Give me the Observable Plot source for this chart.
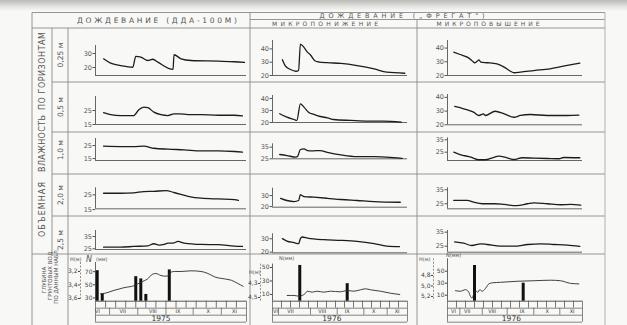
<!DOCTYPE html>
<html><head><meta charset="utf-8">
<script src="https://cdn.jsdelivr.net/npm/d3@7"></script>
<script src="https://cdn.jsdelivr.net/npm/@observablehq/plot@0.6"></script>
<style>
html,body{margin:0;padding:0}
body{width:627px;height:325px;overflow:hidden;position:relative;background:#f8f8f6;font-family:"DejaVu Sans",sans-serif}
#shade{position:absolute;left:0;top:0;width:627px;height:11px;background:linear-gradient(#b9b9b5,#e4e4e1 60%,#f8f8f6)}
#frame{position:absolute;left:0;top:0}
</style></head><body>
<div id="shade"></div>
<svg id="frame" width="627" height="325" font-family="DejaVu Sans, sans-serif">
 <g stroke="#8a8a8a" stroke-width="0.9" fill="none">
  <line x1="32" y1="12.5" x2="605" y2="12.5"/>
  <line x1="250" y1="19.5" x2="605" y2="19.5"/>
  <line x1="32" y1="28" x2="605" y2="28"/>
  <line x1="52" y1="82" x2="605" y2="82"/>
  <line x1="52" y1="132" x2="605" y2="132"/>
  <line x1="52" y1="174" x2="605" y2="174"/>
  <line x1="52" y1="216" x2="605" y2="216"/>
  <line x1="32" y1="254" x2="605" y2="254"/>
  <line x1="32" y1="12.5" x2="32" y2="325"/>
  <line x1="52" y1="28" x2="52" y2="254"/>
  <line x1="68" y1="28" x2="68" y2="325"/>
  <line x1="250" y1="12.5" x2="250" y2="325"/>
  <line x1="417" y1="19.5" x2="417" y2="325"/>
  <line x1="605" y1="12.5" x2="605" y2="325" stroke="#aaa"/>
 </g>
 <g fill="#555">
  <text x="157" y="23" text-anchor="middle" font-size="7.5" textLength="160" lengthAdjust="spacing">ДОЖДЕВАНИЕ (ДДА-100М)</text>
  <text x="402" y="17.6" text-anchor="middle" font-size="6.5" textLength="165" lengthAdjust="spacing">ДОЖДЕВАНИЕ („ФРЕГАТ")</text>
  <text x="325" y="26.4" text-anchor="middle" font-size="6" textLength="106" lengthAdjust="spacing">МИКРОПОНИЖЕНИЕ</text>
  <text x="488" y="26.2" text-anchor="middle" font-size="6" textLength="103" lengthAdjust="spacing">МИКРОПОВЫШЕНИЕ</text>
  <text transform="translate(45,209.5) rotate(-90)" text-anchor="middle" font-size="8" textLength="55" lengthAdjust="spacing">ОБЪЕМНАЯ</text>
  <text transform="translate(45,143.5) rotate(-90)" text-anchor="middle" font-size="8" textLength="57" lengthAdjust="spacing">ВЛАЖНОСТЬ</text>
  <text transform="translate(45,71) rotate(-90)" text-anchor="middle" font-size="8" textLength="78" lengthAdjust="spacing">ПО ГОРИЗОНТАМ</text>
  <text transform="translate(63,55) rotate(-90)" text-anchor="middle" font-size="7.5">0,25 м</text>
  <text transform="translate(63,107) rotate(-90)" text-anchor="middle" font-size="7.5">0,5 м</text>
  <text transform="translate(63,150) rotate(-90)" text-anchor="middle" font-size="7.5">1,0 м</text>
  <text transform="translate(63,195) rotate(-90)" text-anchor="middle" font-size="7.5">2,0 м</text>
  <text transform="translate(63,240) rotate(-90)" text-anchor="middle" font-size="7.5">2,5 м</text>
  <text transform="translate(45.5,280) rotate(-90)" text-anchor="middle" font-size="5.5">ГЛУБИНА</text>
  <text transform="translate(51.5,276) rotate(-90)" text-anchor="middle" font-size="5.5">ГРУНТОВЫХ ВОД</text>
  <text transform="translate(57.5,276) rotate(-90)" text-anchor="middle" font-size="5.5">ПО ДАННЫМ НАБЛ.</text>
  <text x="70" y="261" font-size="5">H(м)</text>
  <text x="86" y="262" font-size="8" font-style="italic">N</text>
  <text x="96" y="261" font-size="5">(мм)</text>
  <text x="249" y="274" font-size="5">H(м)</text>
  <text x="279" y="259.5" font-size="5">N(мм)</text>
  <text x="419" y="261" font-size="5">H(м)</text>
  <text x="446" y="257" font-size="5">N(мм)</text>
 </g>
</svg>
<script>
// ================= DATA =================
const DAY_DOMAIN = [0, 150];   // days, from start of the observation axis

// Column 1: ДОЖДЕВАНИЕ (ДДА-100М), 1975
const dda025Day = [8,15,25,37,40,45,52,57,62,77,78,85,95,122,138,148];
const dda025Val = [26.2,23.1,21.4,20.2,27.9,27.4,25,25.9,23.8,18.6,29.1,26.2,25,24.5,24.1,23.6];
const dda05Day  = [8,15,25,38,43,48,52,58,65,72,78,83,92,105,122,138,146];
const dda05Val  = [23.4,22.1,21.4,21.4,25.5,27.4,27,23.8,22,21.4,22.6,22.6,22.1,22,21.6,21.6,21.2];
const dda10Day  = [8,25,38,48,58,72,88,105,122,138,146];
const dda10Val  = [24.5,24.2,24.2,24.5,22.9,22.2,21.7,20.9,20.9,20.4,19.9];
const dda20Day  = [8,25,38,48,58,70,78,92,105,122,138,142];
const dda20Val  = [26.1,26.1,26.4,27.2,27.4,27.9,26.6,24,22.7,22.2,21.8,21.3];
const dda25Day  = [8,25,38,52,58,63,68,72,77,82,88,105,122,138,146];
const dda25Val  = [26.3,26.3,26.9,27.4,29.1,28,28.5,29.6,29.6,31,29.6,28.5,28.3,27.1,26.9];

// Column 2: ФРЕГАТ, микропонижение, 1976
const lowA025Day = [11,14,20,26,29,31,35,39,42,47,52,61,76,94,113,127,147];
const lowA025Val = [31.8,27.5,24.5,23.2,23.8,43.6,41.1,37.4,35.6,31.1,30.1,29.6,29.1,27.5,25,22.5,21.7];
const lowA05Day  = [8,16,24,27,31,35,40,46,53,61,68,87,106,123,143];
const lowA05Val  = [27.3,24.4,22.5,21.7,35.6,32.8,28.6,26.7,25,23.9,22.5,21.7,21.1,21.1,20.3];
const lowA10Day  = [8,16,26,28,31,35,39,44,53,61,76,94,113,127,144];
const lowA10Val  = [28.7,27.8,26.4,27.2,33,33.6,32.1,31.8,32.1,30.6,28.4,26.9,26.9,26.4,25.3];
const lowA20Day  = [9,16,24,29,31,33,35,46,61,76,94,113,142];
const lowA20Val  = [27.5,25.5,24.5,25.5,30.9,30,29.1,28.5,27.5,26.4,25.5,24.5,23.9];
const lowA25Day  = [11,16,24,29,31,33,39,57,76,94,113,127,141];
const lowA25Val  = [30.1,28.3,27.1,26.3,30.1,31.3,30.5,29.3,28.8,28,26.3,24.5,24.1];

// Column 3: ФРЕГАТ, микроповышение, 1976
const highB025Day = [7,14,22,27,30,33,35,37,44,55,63,70,74,81,96,114,133,147];
const highB025Val = [37,35.3,33.4,31,29.3,30.4,31.4,29.7,29.3,28.5,26.1,23.1,22,22.4,23.6,24.9,27.3,29];
const highB05Day  = [8,18,29,35,40,42,53,63,74,81,92,111,133,146];
const highB05Val  = [33.4,31.7,29.2,26.8,28,26.8,29.9,28,25.5,26.8,27.5,26.8,26.8,27];
const highB10Day  = [7,14,26,35,42,50,57,66,74,83,96,111,124,129,147];
const highB10Val  = [25,23.1,21,18.9,18.9,20.5,21.8,20.5,19.1,20.5,20.2,19.9,19.7,20.7,20.5];
const highB20Day  = [7,22,29,39,52,63,77,89,96,111,126,137,148];
const highB20Val  = [27.4,27.4,26.1,25,25,24.5,23.6,25,25.7,25,24.3,24.5,24];
const highB25Day  = [8,18,27,37,44,59,74,89,103,118,133,147];
const highB25Val  = [28.1,27.1,25.5,26.7,26.2,25,25,26.2,26.7,26.2,25.7,24.8];

// Moisture axis ticks and domains (bottom value at baseline, top at arrow)
const ticksC1 = [[20,30],[15,25],[15,25],[15,25],[25,35]];
const ticksC2 = [[20,30,40],[20,30,40],[25,35],[20,30],[20,30]];
const ticksC3 = [[20,30,40],[20,30,40],[25,35],[25,35],[25,35]];
const domC1 = [[14.3,35.7],[15,35],[13.5,30.4],[15.5,29.8],[24.4,39.9]];
const domC2 = [[20,46.3],[20,42.5],[25,37.9],[19.4,36.7],[19.5,33.7]];
const domC3 = [[20,45.5],[20,42.1],[18.3,36.6],[21.4,36.4],[20.7,36.2]];

// Bottom row: precipitation N (mm) bars and groundwater depth H (m)
const rain1975Day = [1.7,6.7,40,45,50,73.3];
const rain1975Val = [71.5,36,62.4,59,35.3,72.7];
const gw1975Day = [5,10,18.3,28.3,38.3,45,51.7,56.7,60,65,70,72.3,75,78.3,85,95,105,111.7,118.3,128.3,135,141.7,146.7];
const gw1975Val = [3.53,3.52,3.48,3.44,3.41,3.36,3.31,3.24,3.23,3.26,3.27,3.26,3.21,3.2,3.2,3.19,3.2,3.23,3.28,3.31,3.33,3.38,3.42];
const rainLowDay = [30.3,83];
const rainLowVal = [53,26];
const gwLowDay = [16.3,23.7,29.2,33,36.7,38.6,44.1,49.6,57,64.4,75.6,83,90.3,97.8,103.3,108.9,120,131.1,141.4];
const gwLowVal = [4.471,4.471,4.481,4.471,4.439,4.41,4.424,4.41,4.424,4.41,4.419,4.4,4.41,4.39,4.376,4.39,4.41,4.439,4.457];
const rainHighDay = [30,84.1];
const rainHighVal = [59.5,30];
const gwHighDay = [8.9,14.4,20,23.7,25.6,27.4,29.2,31.1,33.7,35.9,38.6,41.1,43.3,45.9,49.7,58.9,77.4,95.9,114.4,125.6,136.7,145.9];
const gwHighVal = [5.09,5.1,5.07,5.12,5.2,5.23,5.15,5.09,5.12,5.07,5.1,5.07,5.02,4.96,4.94,4.93,4.91,4.9,4.89,4.9,4.95,4.96];

const nDom = [[25,84],[0,55],[0,70.7]];
const nTicks = [[30,50,70],[10,30,50],[10,30,50]];
const hDom = [[3.067,3.64],[4.023,4.553],[4.482,5.29]];
const hTicks = [[3.2,3.4,3.6],[4.3,4.5],[4.8,5.0,5.2]];

// Month strip
const monthNames = ["VI","VII","VIII","IX","X","XI"];
const monthPos = [[2,27,57,82,112,138],[3.3,20,55.2,83,112.6,138.5],[6.7,21.9,49.6,83,110.7,138.5]];
const monthSeps = [[14,42,70,97,125],[6.7,42.2,71.9,101.5,127.4],[13.7,38.6,66.3,95.9,124.8]];
const dekads = [10,20,30,40,50,60,70,80,90,100,110,120,130,140];
const years = ["1975","1976","1976"];
const yearPos = [65,66,71];

// ================= LAYOUT =================
const COL = [{x0:68,x1:250,ax:95,ae:246},{x0:250,x1:417,ax:272,ae:407},{x0:417,x1:605,ax:447,ae:582}];
const ROWS = [{y0:28,y1:82},{y0:82,y1:132},{y0:132,y1:174},{y0:174,y1:216},{y0:216,y1:254}];
const geom = [
  [[75,45],[124,96],[160,138],[208.3,187.3],[249,230]],
  [[75,40],[122,95],[158.3,143.3],[206.7,187.7],[252.3,233.3]],
  [[75,40],[124.3,94],[160,137.3],[208.3,187.3],[251.7,230]]
];
const BOT = {y0:254, y1:325, base:300.7};
const nTopY = [262,263.6,258.3];
const hAxisDx = [-15,-12,-14];

const fmt = d => String(d).replace(".", ",");
const baseStyle = {background:"transparent", overflow:"visible", fontFamily:"DejaVu Sans, sans-serif"};
function place(svg, left, top) {
  svg.style.position = "absolute";
  svg.style.left = left + "px";
  svg.style.top = top + "px";
  document.body.appendChild(svg);
}
const zip = (a, b) => a.map((d, i) => ({d, v: b[i]}));

const series = [
  [zip(dda025Day,dda025Val),zip(dda05Day,dda05Val),zip(dda10Day,dda10Val),zip(dda20Day,dda20Val),zip(dda25Day,dda25Val)],
  [zip(lowA025Day,lowA025Val),zip(lowA05Day,lowA05Val),zip(lowA10Day,lowA10Val),zip(lowA20Day,lowA20Val),zip(lowA25Day,lowA25Val)],
  [zip(highB025Day,highB025Val),zip(highB05Day,highB05Val),zip(highB10Day,highB10Val),zip(highB20Day,highB20Val),zip(highB25Day,highB25Val)]
];
const ticks = [ticksC1, ticksC2, ticksC3];
const doms = [domC1, domC2, domC3];

for (let ci = 0; ci < 3; ci++) {
  const c = COL[ci];
  for (let ri = 0; ri < 5; ri++) {
    const r = ROWS[ri];
    const [baseY, topY] = geom[ci][ri];
    const dom = doms[ci][ri];
    const svg = Plot.plot({
      width: c.x1 - c.x0, height: r.y1 - r.y0,
      marginLeft: c.ax - c.x0, marginRight: c.x1 - c.ae,
      marginTop: topY - r.y0, marginBottom: r.y1 - baseY,
      x: {domain: DAY_DOMAIN, axis: null},
      y: {domain: dom, axis: null},
      style: baseStyle,
      marks: [
        Plot.ruleY([dom[0]], {stroke: "#555", strokeWidth: 0.9}),
        Plot.ruleX([DAY_DOMAIN[0]], {stroke: "#555", strokeWidth: 0.9}),
        Plot.axisY({ticks: ticks[ci][ri], anchor: "left", tickSize: 2.5, tickPadding: 1, label: null, fontSize: 6.5, color: "#555", tickFormat: fmt}),
        Plot.line(series[ci][ri], {x: "d", y: "v", stroke: "#1c1c1c", strokeWidth: 1.3, curve: "monotone-x"})
      ]
    });
    place(svg, c.x0, r.y0);
  }
}

const rain = [zip(rain1975Day,rain1975Val), zip(rainLowDay,rainLowVal), zip(rainHighDay,rainHighVal)];
const gw = [zip(gw1975Day,gw1975Val), zip(gwLowDay,gwLowVal), zip(gwHighDay,gwHighVal)];

for (let ci = 0; ci < 3; ci++) {
  const c = COL[ci];
  const common = {
    width: c.x1 - c.x0, height: BOT.y1 - BOT.y0,
    marginLeft: c.ax - c.x0, marginRight: c.x1 - c.ae,
    marginTop: nTopY[ci] - BOT.y0, marginBottom: BOT.y1 - BOT.base,
    x: {domain: DAY_DOMAIN, axis: null},
    style: baseStyle
  };
  // precipitation bars
  const nPlot = Plot.plot({
    ...common,
    y: {domain: nDom[ci], axis: null},
    marks: [
      Plot.ruleY([nDom[ci][0]], {stroke: "#444", strokeWidth: 0.9}),
      Plot.ruleX([DAY_DOMAIN[0]], {stroke: "#555", strokeWidth: 0.9}),
      Plot.axisY({ticks: nTicks[ci], anchor: "left", tickSize: 2, tickPadding: 1, label: null, fontSize: 6, color: "#444", tickFormat: fmt}),
      Plot.ruleX(rain[ci], {x: "d", y1: nDom[ci][0], y2: "v", stroke: "#111", strokeWidth: 3})
    ]
  });
  place(nPlot, c.x0, BOT.y0);
  // groundwater depth
  const hPlot = Plot.plot({
    ...common,
    y: {domain: hDom[ci], reverse: true, axis: null},
    marks: [
      Plot.ruleX([DAY_DOMAIN[0]], {dx: hAxisDx[ci], stroke: "#777", strokeWidth: 0.8, strokeDasharray: "2,1.5"}),
      Plot.axisY({ticks: hTicks[ci], anchor: "left", dx: hAxisDx[ci], tickSize: 2, tickPadding: 1, label: null, fontSize: 6, color: "#444", tickFormat: d => d.toFixed(1).replace(".", ",")}),
      Plot.line(gw[ci], {x: "d", y: "v", stroke: "#2a2a2a", strokeWidth: 0.9, curve: "monotone-x"})
    ]
  });
  place(hPlot, c.x0, BOT.y0);
  // month strip
  const sPlot = Plot.plot({
    width: c.x1 - c.x0, height: 25,
    marginLeft: c.ax - c.x0, marginRight: c.x1 - c.ae,
    marginTop: 0.7, marginBottom: 3.3,
    x: {domain: DAY_DOMAIN, axis: null},
    y: {domain: [3, 0], axis: null},
    style: baseStyle,
    marks: [
      Plot.ruleX(dekads, {x: d => d, y1: 0, y2: 1, stroke: "#555", strokeWidth: 0.8}),
      Plot.ruleY([1, 2, 3], {stroke: "#666", strokeWidth: 0.8}),
      Plot.ruleX(DAY_DOMAIN, {x: d => d, y1: 0, y2: 3, stroke: "#666", strokeWidth: 0.8}),
      Plot.ruleX(monthSeps[ci], {x: d => d, y1: 1, y2: 2, stroke: "#666", strokeWidth: 0.8}),
      Plot.text(monthNames, {x: (d, i) => monthPos[ci][i], y: 1.5, text: d => d, fontSize: 5, fill: "#333"}),
      Plot.text([years[ci]], {x: yearPos[ci], y: 2.5, text: d => d, fontSize: 7.5, fill: "#333", letterSpacing: "1.5px"})
    ]
  });
  place(sPlot, c.x0, 300);
}
</script>
</body></html>
